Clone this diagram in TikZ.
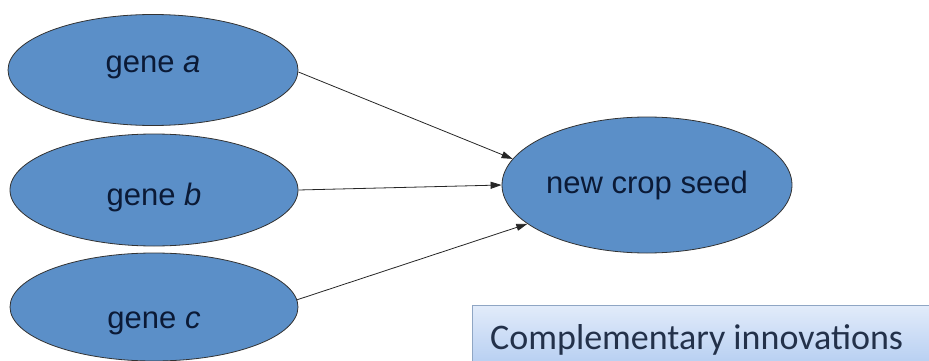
\documentclass[tikz,border=0pt]{standalone}
\usepackage{fontspec}
\setmainfont{Liberation Sans}
\newfontfamily\calib{Carlito}
\usetikzlibrary{shapes.geometric,arrows.meta}
\definecolor{ellfill}{HTML}{5B8FC8}
\definecolor{elltext}{HTML}{0B1A36}
\definecolor{boxtop}{HTML}{E2ECFA}
\definecolor{boxbot}{HTML}{B9D0F2}
\definecolor{boxline}{HTML}{8FA6C4}
\tikzset{
  gene/.style={ellipse, draw=black!80, line width=0.8pt, fill=ellfill,
    minimum width=#1, inner sep=0pt},
  lbl/.style={text=elltext, font=\fontsize{31}{34}\selectfont, inner sep=0pt},
  link/.style={-{Triangle[length=11pt,width=7pt]}, line width=0.8pt, black!85}
}
\begin{document}
\begin{tikzpicture}[x=1pt,y=-1pt]
\useasboundingbox (0,0) rectangle (929,361);
\node[gene=290pt, minimum height=111pt] (a) at (153,70) {};
\node[gene=288pt, minimum height=112pt] (b) at (154,190) {};
\node[gene=288pt, minimum height=108pt] (c) at (154,307) {};
\node[gene=290pt, minimum height=136pt] (s) at (647,185) {};
\node[lbl, yshift=3pt] (la) at (a) {gene \textit{a}};
\node[lbl, yshift=-7pt] (lb) at (b) {gene \textit{b}};
\node[lbl, yshift=-16pt] (lc) at (c) {gene \textit{c}};
\node[lbl] (ls) at (s) {new crop seed};
\draw[link] (a.east) ++(0,2) -- (s.169);
\draw[link] (b.east) -- (s.west);
\draw[link] (c.east) ++(-2,-7) -- (s.198);
\shade[top color=boxtop, bottom color=boxbot] (472,305) rectangle (929,361);
\draw[boxline, line width=1pt] (472,361) -- (472,305) -- (929,305);
\node[anchor=base west, text=elltext!90, font=\calib\fontsize{36}{40}\selectfont, inner sep=0pt] (t) at (490,349) {Complementary innovations};
\end{tikzpicture}
\end{document}
